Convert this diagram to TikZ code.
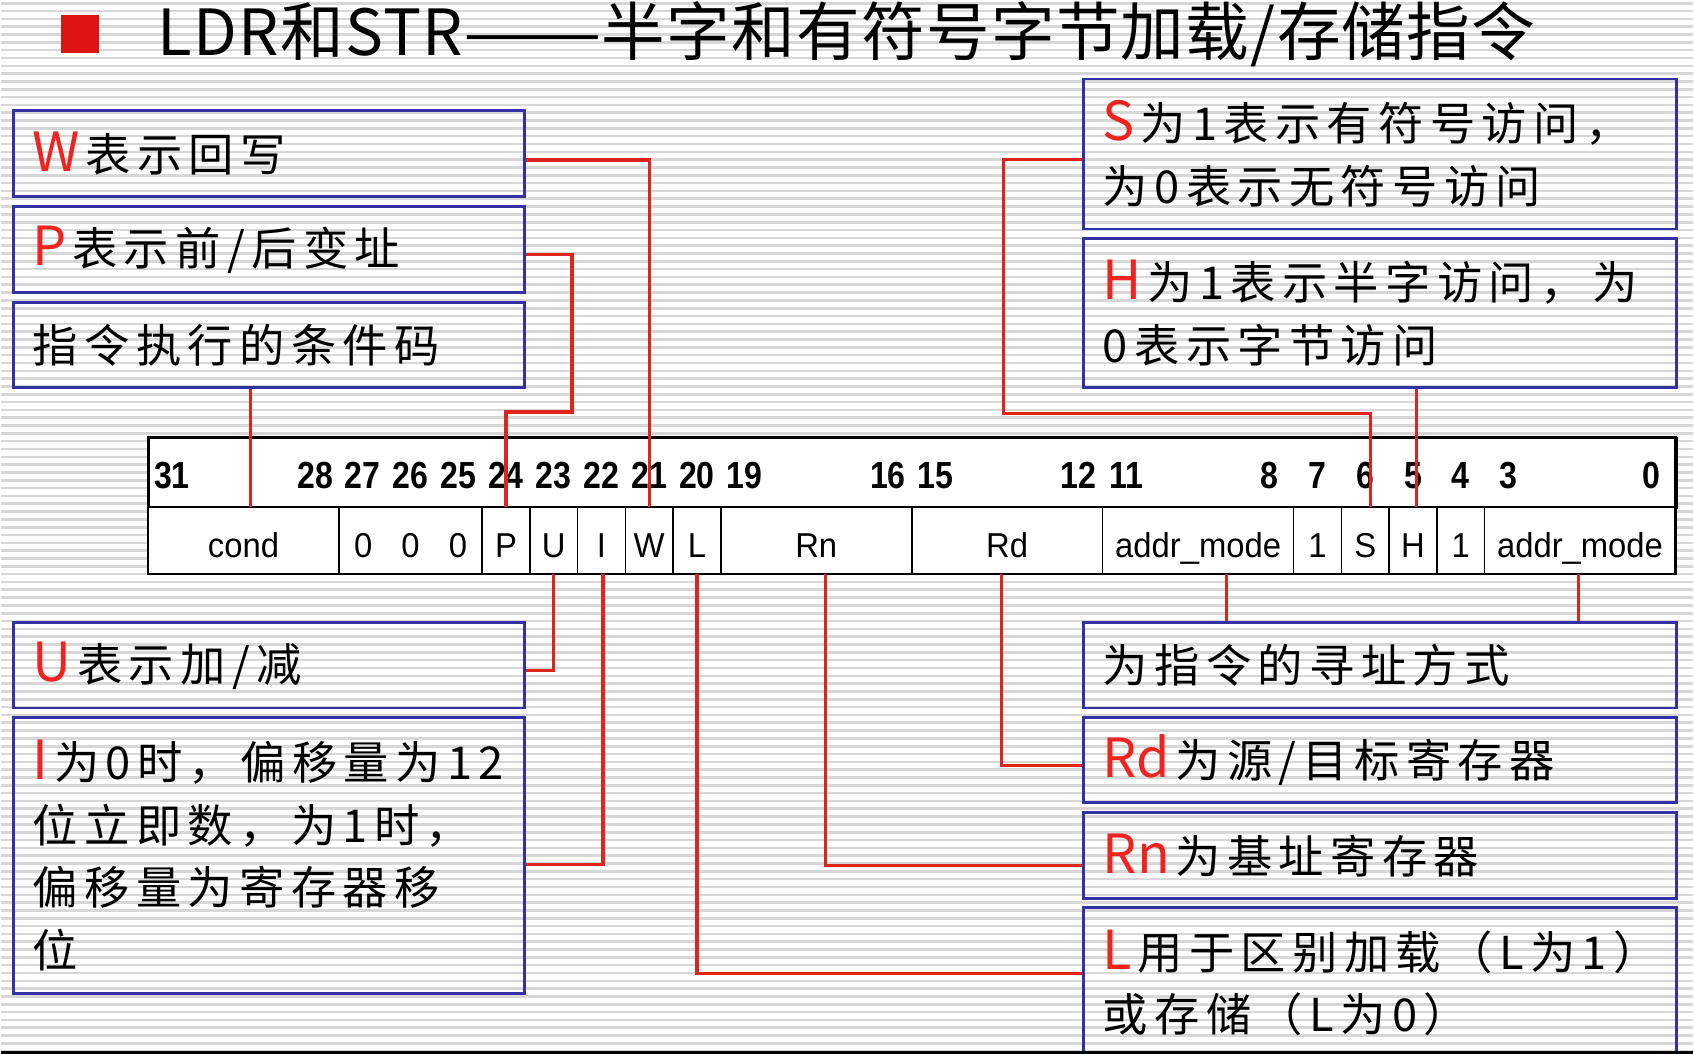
\documentclass[tikz,border=0pt]{standalone}
\usepackage{fontspec}
\newfontfamily\titlefont[LetterSpace=2]{Noto Sans CJK SC}
\newfontfamily\notefont[LetterSpace=14]{Noto Sans CJK SC}
\newfontfamily\keyfont{Noto Sans CJK SC}
\newfontfamily\bitfont[FakeStretch=0.85]{Liberation Sans}
\newfontfamily\fieldfont[FakeStretch=0.95]{Liberation Sans}
\definecolor{boxblue}{RGB}{50,50,165}
\definecolor{linered}{RGB}{225,35,30}
\definecolor{keyred}{RGB}{240,35,30}
\definecolor{bulletred}{RGB}{220,20,20}
\definecolor{stripegray}{RGB}{215,215,215}
\newcommand\fieldkey[1]{{\keyfont\color{keyred}\fontsize{50}{58}\selectfont #1}\hspace{5pt}}
\begin{document}
\begin{tikzpicture}[x=1pt,y=-1pt,
    notebox/.style={draw=boxblue,line width=2.5pt,anchor=north west,inner xsep=18pt,inner ysep=0pt,align=left,font=\notefont\fontsize{42}{58}\selectfont},
    leftbox/.style={notebox,text width=438pt},
    rightbox/.style={notebox,text width=514pt},
    cell/.style={draw,line width=1.5pt,fill=white,anchor=north west,minimum height=62pt,inner sep=0pt,outer sep=0pt,text height=31pt,text depth=0pt,font=\fieldfont\fontsize{32}{32}\selectfont},
    redline/.style={draw=linered,line width=3pt}]
\fill[white](0,0)rectangle(1568,977);
\foreach \k in {0,...,134}
{
    \draw[stripegray,line width=2.4pt](0,3+\k*7.25)--(1568,3+\k*7.25);
}
\useasboundingbox(0,0)rectangle(1568,977);

\node[fill=bulletred,minimum size=35pt,inner sep=0pt,anchor=north west](bullet)at(55,14){};
\node[anchor=base west,inner sep=0pt,font=\titlefont\fontsize{59}{59}\selectfont](title)at(145,51){LDR和STR\scalebox{1.3}[1]{——}半字和有符号字节加载/存储指令};

\node[leftbox,minimum height=80pt](Wbox)at(10,101){\fieldkey{W}表示回写};
\node[leftbox,minimum height=80pt](Pbox)at(10,190){\fieldkey{P}表示前/后变址};
\node[leftbox,minimum height=79pt](condbox)at(10,279){指令执行的条件码};
\node[leftbox,minimum height=79pt](Ubox)at(10,576){\fieldkey{U}表示加/减};
\node[leftbox,minimum height=256pt](Ibox)at(10,664){\fieldkey{I}为0时，偏移量为12\\位立即数，为1时，\\偏移量为寄存器移\\位};
\node[rightbox,minimum height=139pt](Sbox)at(1002,72){\fieldkey{S}为1表示有符号访问，\\为0表示无符号访问};
\node[rightbox,minimum height=138pt](Hbox)at(1002,220){\fieldkey{H}为1表示半字访问，为\\0表示字节访问};
\node[rightbox,minimum height=79pt](addrbox)at(1002,576){为指令的寻址方式};
\node[rightbox,minimum height=79pt](Rdbox)at(1002,664){\fieldkey{Rd}为源/目标寄存器};
\node[rightbox,minimum height=80pt](Rnbox)at(1002,752){\fieldkey{Rn}为基址寄存器};
\node[rightbox,minimum height=140pt](Lbox)at(1002,840){\fieldkey{L}用于区别加载（L为1）\\或存储（L为0）};

\node[draw,line width=2pt,fill=white,anchor=north west,minimum width=1416pt,minimum height=65pt,inner sep=0pt](bitrow)at(136,405){};
\foreach \name/\txt/\s/\n in {cond/cond/0/4,zeros/{0\hspace{27pt}0\hspace{27pt}0}/4/3,P/P/7/1,U/U/8/1,I/I/9/1,W/W/10/1,L/L/11/1,Rn/Rn/12/4,Rd/Rd/16/4,addrhi/addr\_mode/20/4,oneA/1/24/1,S/S/25/1,H/H/26/1,oneB/1/27/1,addrlo/addr\_mode/28/4}
{
    \node[cell,minimum width=\n*44.25pt](\name)at({136+\s*44.25},470){\txt};
}
\foreach \b in {31,28,27,26,25,24,23,22,21,20,19,16,15,12,11,8,7,6,5,4,3,0}
{
    \node[anchor=base,inner sep=0pt,font=\bitfont\bfseries\fontsize{35}{35}\selectfont](bit\b)at({136+(31.5-\b)*44.25},453){\b};
}
\draw[line width=2.5pt](bitrow.north west)rectangle(addrlo.south east);

\draw[redline]([yshift=-6pt]Wbox.east)-|(W.north);
\draw[redline]([yshift=-5pt]Pbox.east)-|(529,382)-|(P.north);
\coordinate(condtap)at([xshift=6.5pt]cond.north);
\draw[redline](condtap|-condbox.south)--(condtap);
\draw[redline]([yshift=-5pt]Sbox.west)-|(929,383)-|([xshift=5pt]S.north);
\coordinate(Htap)at([xshift=3.5pt]H.north);
\draw[redline](Htap|-Hbox.south)--(Htap);
\draw[redline]([yshift=-4.5pt]Ubox.east)-|(U.south);
\draw[redline]([yshift=-8pt]Ibox.east)-|([xshift=1.5pt]I.south);
\draw[redline]([yshift=9pt]Lbox.west)-|(L.south);
\draw[redline]([yshift=-9pt]Rnbox.west)-|([xshift=8.5pt]Rn.south);
\draw[redline]([yshift=-5pt]Rdbox.west)-|([xshift=-5pt]Rd.south);
\coordinate(addrtapA)at([xshift=26.5pt]addrhi.south);
\draw[redline](addrtapA|-addrbox.north)--(addrtapA);
\coordinate(addrtapB)at([xshift=-1.5pt]addrlo.south);
\draw[redline](addrtapB|-addrbox.north)--(addrtapB);

\draw[line width=3pt](0,975.5)--(1568,975.5);
\end{tikzpicture}
\end{document}
